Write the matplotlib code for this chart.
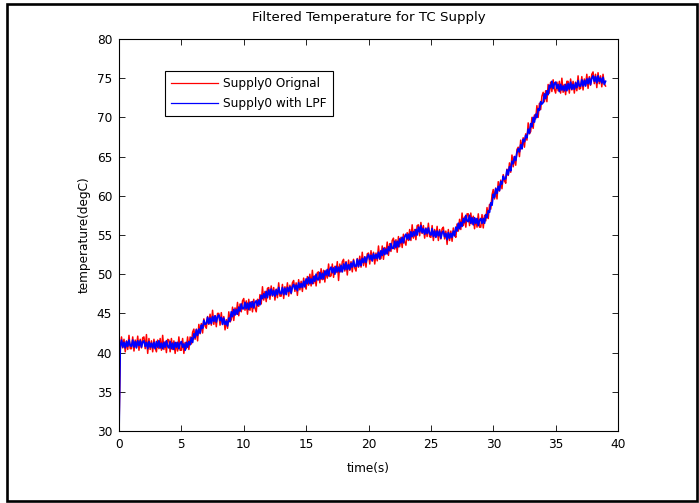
import numpy as np
import matplotlib
matplotlib.use('Agg')
import matplotlib.pyplot as plt
from matplotlib.patches import Rectangle

# supply temperature samples (degC), one every 0.1 s
dt = 0.1
supply0_raw = [
    30.0, 40.3, 42.0, 40.6, 41.7, 40.1, 41.5, 40.4, 42.2, 40.5,
    40.5, 42.0, 40.2, 41.6, 40.7, 42.1, 40.3, 41.7, 40.6, 41.9,
    42.0, 40.5, 42.3, 39.9, 41.8, 40.4, 41.5, 40.1, 41.7, 40.6,
    40.1, 41.6, 40.5, 41.8, 40.3, 42.2, 40.4, 41.4, 40.0, 41.7,
    41.6, 40.1, 41.8, 40.4, 41.5, 39.9, 41.3, 40.2, 42.0, 40.3,
    40.3, 41.8, 39.9, 41.3, 40.5, 42.0, 40.4, 42.0, 41.1, 42.6,
    43.0, 41.7, 43.0, 41.5, 43.6, 42.4, 43.7, 42.5, 44.3, 43.4,
    43.1, 44.6, 43.6, 44.9, 43.5, 45.4, 43.6, 44.7, 43.3, 45.0,
    45.0, 43.5, 45.1, 43.6, 44.6, 42.9, 44.2, 43.1, 45.2, 43.9,
    44.2, 45.8, 44.1, 45.7, 44.9, 46.4, 44.7, 46.2, 45.2, 46.6,
    46.9, 45.4, 46.6, 44.9, 46.8, 45.4, 46.5, 45.2, 46.8, 45.7,
    45.2, 46.8, 45.9, 47.4, 46.2, 48.4, 46.7, 47.8, 46.5, 48.2,
    48.3, 46.8, 48.5, 47.2, 48.3, 46.7, 48.1, 47.0, 48.9, 47.2,
    47.2, 48.7, 46.9, 48.4, 47.5, 48.9, 47.2, 48.6, 47.5, 48.9,
    49.2, 47.8, 48.9, 47.3, 49.3, 48.0, 49.1, 47.8, 49.5, 48.5,
    48.1, 49.7, 48.6, 50.0, 48.5, 50.5, 48.8, 49.8, 48.5, 50.2,
    50.3, 48.9, 50.7, 49.3, 50.5, 49.0, 50.5, 49.5, 51.3, 49.7,
    49.8, 51.3, 49.6, 51.0, 50.2, 51.6, 49.2, 51.3, 50.3, 51.6,
    51.9, 50.4, 51.6, 49.9, 51.8, 50.5, 51.6, 50.3, 51.9, 50.8,
    50.4, 52.0, 50.9, 52.3, 50.9, 52.8, 51.1, 52.2, 50.9, 52.6,
    52.7, 51.3, 53.0, 51.7, 52.8, 51.3, 52.7, 51.7, 53.6, 51.9,
    52.0, 53.6, 51.9, 53.4, 52.6, 54.1, 52.4, 53.9, 52.9, 54.3,
    54.6, 53.2, 54.4, 52.8, 54.8, 53.5, 54.7, 53.4, 55.1, 54.1,
    53.7, 55.3, 54.3, 55.7, 54.3, 56.3, 54.6, 55.7, 54.4, 56.2,
    56.3, 54.9, 56.6, 55.2, 56.2, 54.6, 55.9, 54.8, 56.5, 54.8,
    54.7, 56.2, 54.3, 55.7, 54.8, 56.1, 54.3, 55.7, 54.5, 55.8,
    56.0, 54.5, 55.5, 53.8, 55.7, 54.3, 55.5, 54.2, 55.9, 55.0,
    54.7, 56.4, 55.5, 57.0, 55.7, 57.8, 56.2, 57.3, 56.0, 57.7,
    57.7, 56.2, 57.8, 56.4, 57.4, 55.8, 57.1, 56.0, 57.7, 56.0,
    56.0, 57.6, 55.9, 57.5, 56.8, 58.5, 57.1, 58.9, 58.3, 60.1,
    60.8, 59.6, 61.0, 59.6, 61.8, 60.6, 62.0, 60.9, 62.7, 61.9,
    61.6, 63.4, 62.6, 64.2, 63.0, 65.2, 63.7, 65.0, 63.9, 65.9,
    66.2, 65.0, 67.1, 66.0, 67.4, 66.2, 67.9, 67.1, 69.3, 67.9,
    68.2, 70.0, 68.6, 70.3, 69.8, 71.5, 70.0, 71.8, 71.0, 72.7,
    73.2, 72.0, 73.4, 72.0, 74.2, 73.1, 74.5, 73.3, 74.8, 73.6,
    73.1, 74.5, 73.4, 74.6, 73.1, 75.0, 73.2, 74.2, 72.9, 74.6,
    74.6, 73.1, 74.9, 73.5, 74.6, 73.1, 74.5, 73.4, 75.3, 73.6,
    73.7, 75.2, 73.5, 74.9, 74.1, 75.5, 73.7, 75.2, 74.1, 75.5,
    75.8, 74.3, 75.5, 73.8, 75.7, 74.3, 75.3, 73.9, 75.5, 74.3,
    74.0,
]

# same channel after the low pass filter
supply0_lpf = [
    30.0, 40.8, 41.6, 40.7, 41.3, 40.6, 41.4, 40.8, 41.6, 40.9,
    40.8, 41.6, 40.7, 41.4, 40.6, 41.5, 40.9, 41.5, 40.7, 41.4,
    41.5, 40.8, 41.3, 40.5, 41.4, 40.7, 41.2, 40.6, 41.3, 40.5,
    41.4, 40.7, 41.5, 40.6, 41.2, 40.5, 41.3, 40.7, 41.5, 40.8,
    40.6, 41.4, 40.5, 41.2, 40.4, 41.3, 40.7, 41.3, 40.5, 41.2,
    41.4, 40.7, 41.1, 40.3, 41.3, 40.7, 41.4, 41.0, 41.9, 41.3,
    42.4, 41.9, 42.9, 42.2, 43.0, 42.5, 43.5, 43.1, 44.1, 43.6,
    43.7, 44.5, 43.7, 44.4, 43.7, 44.6, 44.0, 44.7, 43.9, 44.6,
    44.8, 44.1, 44.5, 43.6, 44.4, 43.6, 44.0, 43.4, 44.4, 44.0,
    45.2, 44.6, 45.5, 44.8, 45.5, 44.9, 45.8, 45.3, 46.2, 45.6,
    45.6, 46.4, 45.6, 46.3, 45.5, 46.4, 45.8, 46.5, 45.7, 46.4,
    46.6, 46.0, 46.7, 46.1, 47.3, 46.9, 47.5, 47.0, 47.8, 47.0,
    48.0, 47.3, 48.1, 47.3, 47.9, 47.2, 48.0, 47.4, 48.3, 47.6,
    47.5, 48.3, 47.4, 48.2, 47.4, 48.3, 47.8, 48.4, 47.6, 48.4,
    48.7, 48.1, 48.6, 47.9, 48.9, 48.3, 48.8, 48.3, 49.1, 48.4,
    49.4, 48.8, 49.6, 48.8, 49.4, 48.8, 49.7, 49.1, 50.0, 49.3,
    49.3, 50.2, 49.4, 50.1, 49.4, 50.4, 49.9, 50.6, 49.8, 50.6,
    50.9, 50.2, 50.8, 50.0, 51.0, 50.3, 50.9, 50.3, 51.1, 50.3,
    51.3, 50.6, 51.5, 50.6, 51.2, 50.6, 51.4, 50.9, 51.7, 51.0,
    51.0, 51.9, 51.0, 51.8, 51.1, 52.0, 51.5, 52.2, 51.5, 52.2,
    52.5, 51.9, 52.4, 51.7, 52.6, 52.0, 52.5, 52.0, 52.8, 52.0,
    53.0, 52.4, 53.3, 52.5, 53.2, 52.6, 53.5, 53.0, 53.9, 53.3,
    53.3, 54.2, 53.4, 54.2, 53.5, 54.5, 54.0, 54.7, 54.0, 54.8,
    55.1, 54.5, 55.1, 54.4, 55.4, 54.8, 55.4, 54.9, 55.7, 55.0,
    56.0, 55.4, 56.2, 55.3, 55.8, 55.1, 55.8, 55.2, 55.9, 55.2,
    55.0, 55.8, 54.8, 55.5, 54.7, 55.5, 54.9, 55.5, 54.6, 55.3,
    55.5, 54.8, 55.2, 54.4, 55.3, 54.6, 55.2, 54.7, 55.5, 54.9,
    56.0, 55.5, 56.5, 55.8, 56.6, 56.1, 57.1, 56.6, 57.5, 56.8,
    56.7, 57.5, 56.5, 57.2, 56.3, 57.2, 56.5, 57.1, 56.2, 56.9,
    57.1, 56.5, 57.1, 56.5, 57.6, 57.2, 58.1, 57.9, 59.1, 58.8,
    60.2, 59.8, 60.9, 60.3, 61.2, 60.7, 61.8, 61.5, 62.5, 62.1,
    62.2, 63.3, 62.7, 63.7, 63.2, 64.4, 64.1, 65.0, 64.5, 65.5,
    66.0, 65.6, 66.5, 66.0, 67.2, 66.9, 67.7, 67.4, 68.5, 68.0,
    69.2, 68.8, 70.0, 69.4, 70.4, 70.0, 71.1, 70.9, 72.0, 71.7,
    71.9, 73.0, 72.4, 73.4, 72.9, 74.1, 73.8, 74.6, 73.7, 74.3,
    74.5, 73.7, 74.2, 73.3, 74.2, 73.5, 74.0, 73.4, 74.2, 73.4,
    74.3, 73.6, 74.5, 73.6, 74.2, 73.6, 74.4, 73.8, 74.7, 74.0,
    74.0, 74.8, 74.0, 74.7, 74.0, 74.9, 74.3, 75.0, 74.2, 75.0,
    75.3, 74.6, 75.2, 74.4, 75.3, 74.6, 75.0, 74.4, 75.1, 74.2,
    74.6,
]

xticks = [0, 5, 10, 15, 20, 25, 30, 35, 40]
yticks = [30, 35, 40, 45, 50, 55, 60, 65, 70, 75, 80]

fs = 8.7
plt.rcParams['font.family'] = ['DejaVu Sans']
plt.rcParams['font.size'] = fs

t = np.arange(len(supply0_raw)) * dt
t_f = np.arange(len(supply0_lpf)) * dt

fig = plt.figure(figsize=(6.99, 5.03), dpi=100)
ax = fig.add_axes([119 / 699, 1 - 431 / 503, 499 / 699, 392 / 503])

ax.plot(t, supply0_raw, color='#ff0000', lw=1.1, label='Supply0 Orignal')
ax.plot(t_f, supply0_lpf, color='#0000ff', lw=1.3, label='Supply0 with LPF')

ax.set_xlim(0, 40)
ax.set_ylim(30, 80)
ax.set_xticks(xticks)
ax.set_yticks(yticks)
ax.tick_params(direction='in', top=True, right=True, length=4, width=0.6,
               labelsize=fs, pad=5)
for sp in ax.spines.values():
    sp.set_linewidth(0.8)

ax.set_title('Filtered Temperature for TC Supply', fontsize=9.6, pad=13)
ax.set_xlabel('time(s)', fontsize=fs, labelpad=8)
ax.set_ylabel('temperature(degC)', fontsize=fs, labelpad=4)

leg = ax.legend(loc='upper left', bbox_to_anchor=(46 / 499, 1 - 32 / 392),
                fancybox=False, framealpha=1, edgecolor='black',
                handlelength=3.9, handletextpad=0.4, labelspacing=0.6,
                borderpad=0.5, borderaxespad=0, fontsize=fs)
leg.get_frame().set_linewidth(0.8)
for ln in leg.get_lines():
    ln.set_linewidth(0.9)

# black frame round the whole figure
fig.patches.append(Rectangle((7 / 699, 2.5 / 503), 690 / 699, 497 / 503,
                             transform=fig.transFigure, fill=False,
                             edgecolor='black', lw=1.9))

fig.savefig('out.png', dpi=100)
